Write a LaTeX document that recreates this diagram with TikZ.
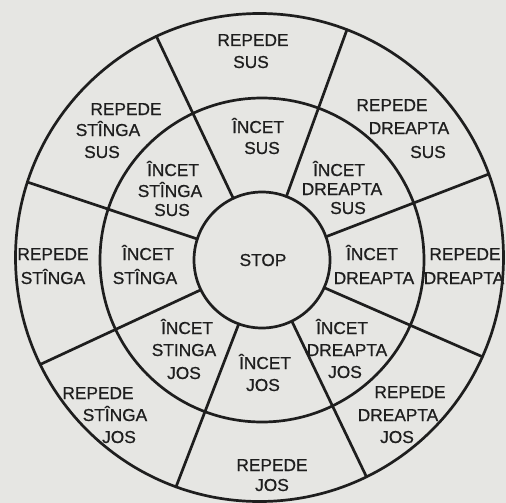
\documentclass[tikz,border=0pt]{standalone}
\usepackage{fontspec}
\setmainfont{Liberation Sans}
\newfontfamily\lblfont{Liberation Sans}[FakeBold=0.7]
\definecolor{paper}{RGB}{230,230,227}
\definecolor{ink}{RGB}{30,30,30}
\tikzset{
  ring/.style={circle, draw=ink, line width=2.7pt, outer sep=0pt, inner sep=0pt},
  spoke/.style={draw=ink, line width=2.7pt, line cap=round},
  lbl/.style={anchor=base, inner sep=0pt, text=ink, font=\lblfont\fontsize{17.3}{22}\selectfont}
}
\begin{document}
\begin{tikzpicture}[x=1pt,y=-1pt]
\fill[paper] (0,0) rectangle (506,503);
\useasboundingbox (0,0) rectangle (506,503);
% rings
\node[ring, minimum size=488pt] (outer) at (259.5,257.5) {};
\node[ring, minimum size=324pt] (middle) at (262,260) {};
\node[ring, minimum size=136pt] (inner) at (262,260) {};
% spokes
\foreach \a in {20,69,115.5,162,206.5,250,296,336}
  \draw[spoke] (inner.\a) -- (outer.\a);
% labels (baseline = cap centre + 6)
\node[lbl] (stop) at (263,266) {STOP};
% REPEDE SUS
\node[lbl] (rs1) at (253,46) {REPEDE};
\node[lbl] (rs2) at (251,68) {SUS};
% REPEDE STINGA SUS
\node[lbl] (rss1) at (126,115) {REPEDE};
\node[lbl] (rss2) at (108,136) {STÎNGA};
\node[lbl] (rss3) at (102,158) {SUS};
% INCET SUS
\node[lbl] (is1) at (258,133) {ÎNCET};
\node[lbl] (is2) at (262,154) {SUS};
% REPEDE DREAPTA SUS
\node[lbl] (rds1) at (392,111) {REPEDE};
\node[lbl] (rds2) at (409,134) {DREAPTA};
\node[lbl] (rds3) at (428,158) {SUS};
% INCET STINGA SUS
\node[lbl] (iss1) at (173,176) {ÎNCET};
\node[lbl] (iss2) at (170,197) {STÎNGA};
\node[lbl] (iss3) at (172,216) {SUS};
% INCET DREAPTA SUS
\node[lbl] (ids1) at (339,176) {ÎNCET};
\node[lbl] (ids2) at (342,195) {DREAPTA};
\node[lbl] (ids3) at (348,214) {SUS};
% REPEDE STINGA
\node[lbl] (rst1) at (53,260) {REPEDE};
\node[lbl] (rst2) at (53,284) {STÎNGA};
% INCET STINGA
\node[lbl] (ist1) at (148,260) {ÎNCET};
\node[lbl] (ist2) at (145,284) {STÎNGA};
% INCET DREAPTA
\node[lbl] (idr1) at (372,260) {ÎNCET};
\node[lbl] (idr2) at (374,284) {DREAPTA};
% REPEDE DREAPTA
\node[lbl] (rdr1) at (465,260) {REPEDE};
\node[lbl] (rdr2) at (464,284) {DREAPTA};
% INCET STINGA JOS
\node[lbl] (isj1) at (187,334) {ÎNCET};
\node[lbl] (isj2) at (184,356) {STINGA};
\node[lbl] (isj3) at (184,379) {JOS};
% INCET JOS
\node[lbl] (ij1) at (265,369) {ÎNCET};
\node[lbl] (ij2) at (263,391) {JOS};
% INCET DREAPTA JOS
\node[lbl] (idj1) at (342,334) {ÎNCET};
\node[lbl] (idj2) at (347,356) {DREAPTA};
\node[lbl] (idj3) at (345,378) {JOS};
% REPEDE STINGA JOS
\node[lbl] (rsj1) at (98,399) {REPEDE};
\node[lbl] (rsj2) at (115,421) {STÎNGA};
\node[lbl] (rsj3) at (119,443) {JOS};
% REPEDE DREAPTA JOS
\node[lbl] (rdj1) at (410,398) {REPEDE};
\node[lbl] (rdj2) at (398,421) {DREAPTA};
\node[lbl] (rdj3) at (397,443) {JOS};
% REPEDE JOS
\node[lbl] (rj1) at (272,471) {REPEDE};
\node[lbl] (rj2) at (272,491) {JOS};
\end{tikzpicture}
\end{document}
